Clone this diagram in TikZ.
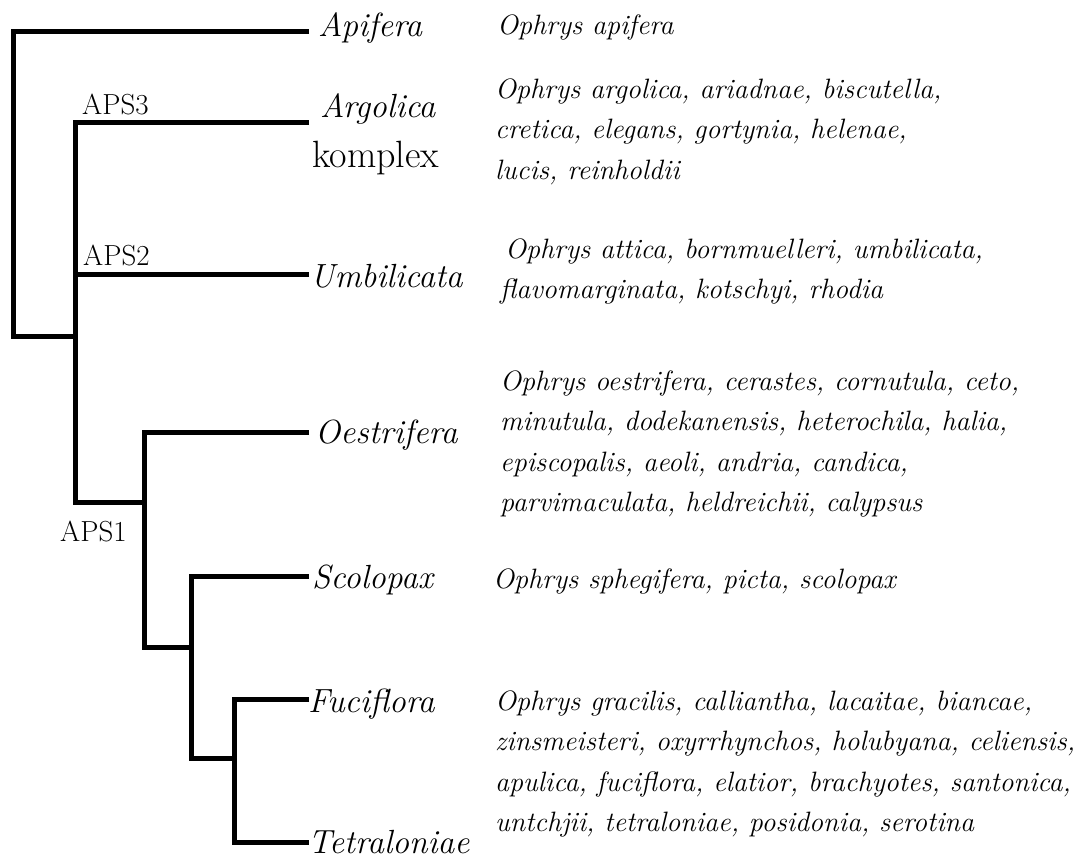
\documentclass[tikz,border=0pt]{standalone}
\usepackage{fontspec}
\newcommand{\splist}[1]{\begin{tabular}[t]{@{}l@{}}#1\end{tabular}}
\begin{document}
\begin{tikzpicture}[x=1pt,y=-1pt,
  branch/.style={line width=5pt,black,line join=miter},
  clade/.style={anchor=base west,inner sep=0pt,font=\fontsize{33.5}{40}\selectfont\itshape},
  cladeup/.style={anchor=base west,inner sep=0pt,font=\fontsize{38}{40}\selectfont},
  aps/.style={anchor=base west,inner sep=0pt,font=\fontsize{29}{32}\selectfont},
  species/.style={anchor=base west,inner sep=0pt,font=\fontsize{28}{40.5}\selectfont\itshape}]
\useasboundingbox (0,0) rectangle (1075,859);
% tree coordinates
\coordinate (rootB) at (13,336);
\coordinate (aR) at (75,336);
\coordinate (aB) at (75,502);
\coordinate (a2) at (75,274);
\coordinate (o1J) at (144,502);
\coordinate (o1B) at (144,647);
\coordinate (s1J) at (191,647);
\coordinate (s1B) at (191,758);
\coordinate (f1J) at (234,758);
\coordinate (f1B) at (234,842);
\coordinate (tApi) at (309,32);
\coordinate (tArg) at (309,122);
\coordinate (tUmb) at (309,274);
\coordinate (tOes) at (309,432);
\coordinate (tSco) at (309,576);
\coordinate (tFuc) at (309,699);
\coordinate (tTet) at (309,842);
% branches
\draw[branch] (tApi) -| (rootB) -- (aR);
\draw[branch] (tArg) -| (aB) -- (o1J);
\draw[branch] (tUmb) -- (a2);
\draw[branch] (tOes) -| (o1B) -- (s1J);
\draw[branch] (tSco) -| (s1B) -- (f1J);
\draw[branch] (tFuc) -| (f1B) -- (tTet);
% node labels
\node[aps] (aps3) at (82,114) {APS3};
\node[aps] (aps2) at (83,265) {APS2};
\node[aps] (aps1) at (60,541) {APS1};
% clade names
\node[clade] (lApi) at (318,37) {Apifera};
\node[clade] (lArg) at (320,117) {Argolica};
\node[cladeup] (lKom) at (312,167) {komplex};
\node[clade] (lUmb) at (310,287) {Umbilicata};
\node[clade] (lOes) at (315,443) {Oestrifera};
\node[clade] (lSco) at (312,588) {Scolopax};
\node[clade] (lFuc) at (308,712) {Fuciflora};
\node[clade] (lTet) at (308,853) {Tetraloniae};
% species lists
\node[species] (sApi) at (497,35) {Ophrys apifera};
\node[species] (sArg) at (495,98) {\splist{Ophrys argolica, ariadnae, biscutella,\\cretica, elegans, gortynia, helenae,\\lucis, reinholdii}};
\node[species] (sUmb) at (500,258) {\splist{\hspace{5pt}Ophrys attica, bornmuelleri, umbilicata,\\flavomarginata, kotschyi, rhodia}};
\node[species] (sOes) at (500,390) {\splist{Ophrys oestrifera, cerastes, cornutula, ceto,\\minutula, dodekanensis, heterochila, halia,\\episcopalis, aeoli, andria, candica,\\parvimaculata, heldreichii, calypsus}};
\node[species] (sSco) at (493,588) {Ophrys sphegifera, picta, scolopax};
\node[species] (sFuc) at (495,710) {\splist{Ophrys gracilis, calliantha, lacaitae, biancae,\\zinsmeisteri, oxyrrhynchos, holubyana, celiensis,\\apulica, fuciflora, elatior, brachyotes, santonica,\\untchjii, tetraloniae, posidonia, serotina}};
\end{tikzpicture}
\end{document}
